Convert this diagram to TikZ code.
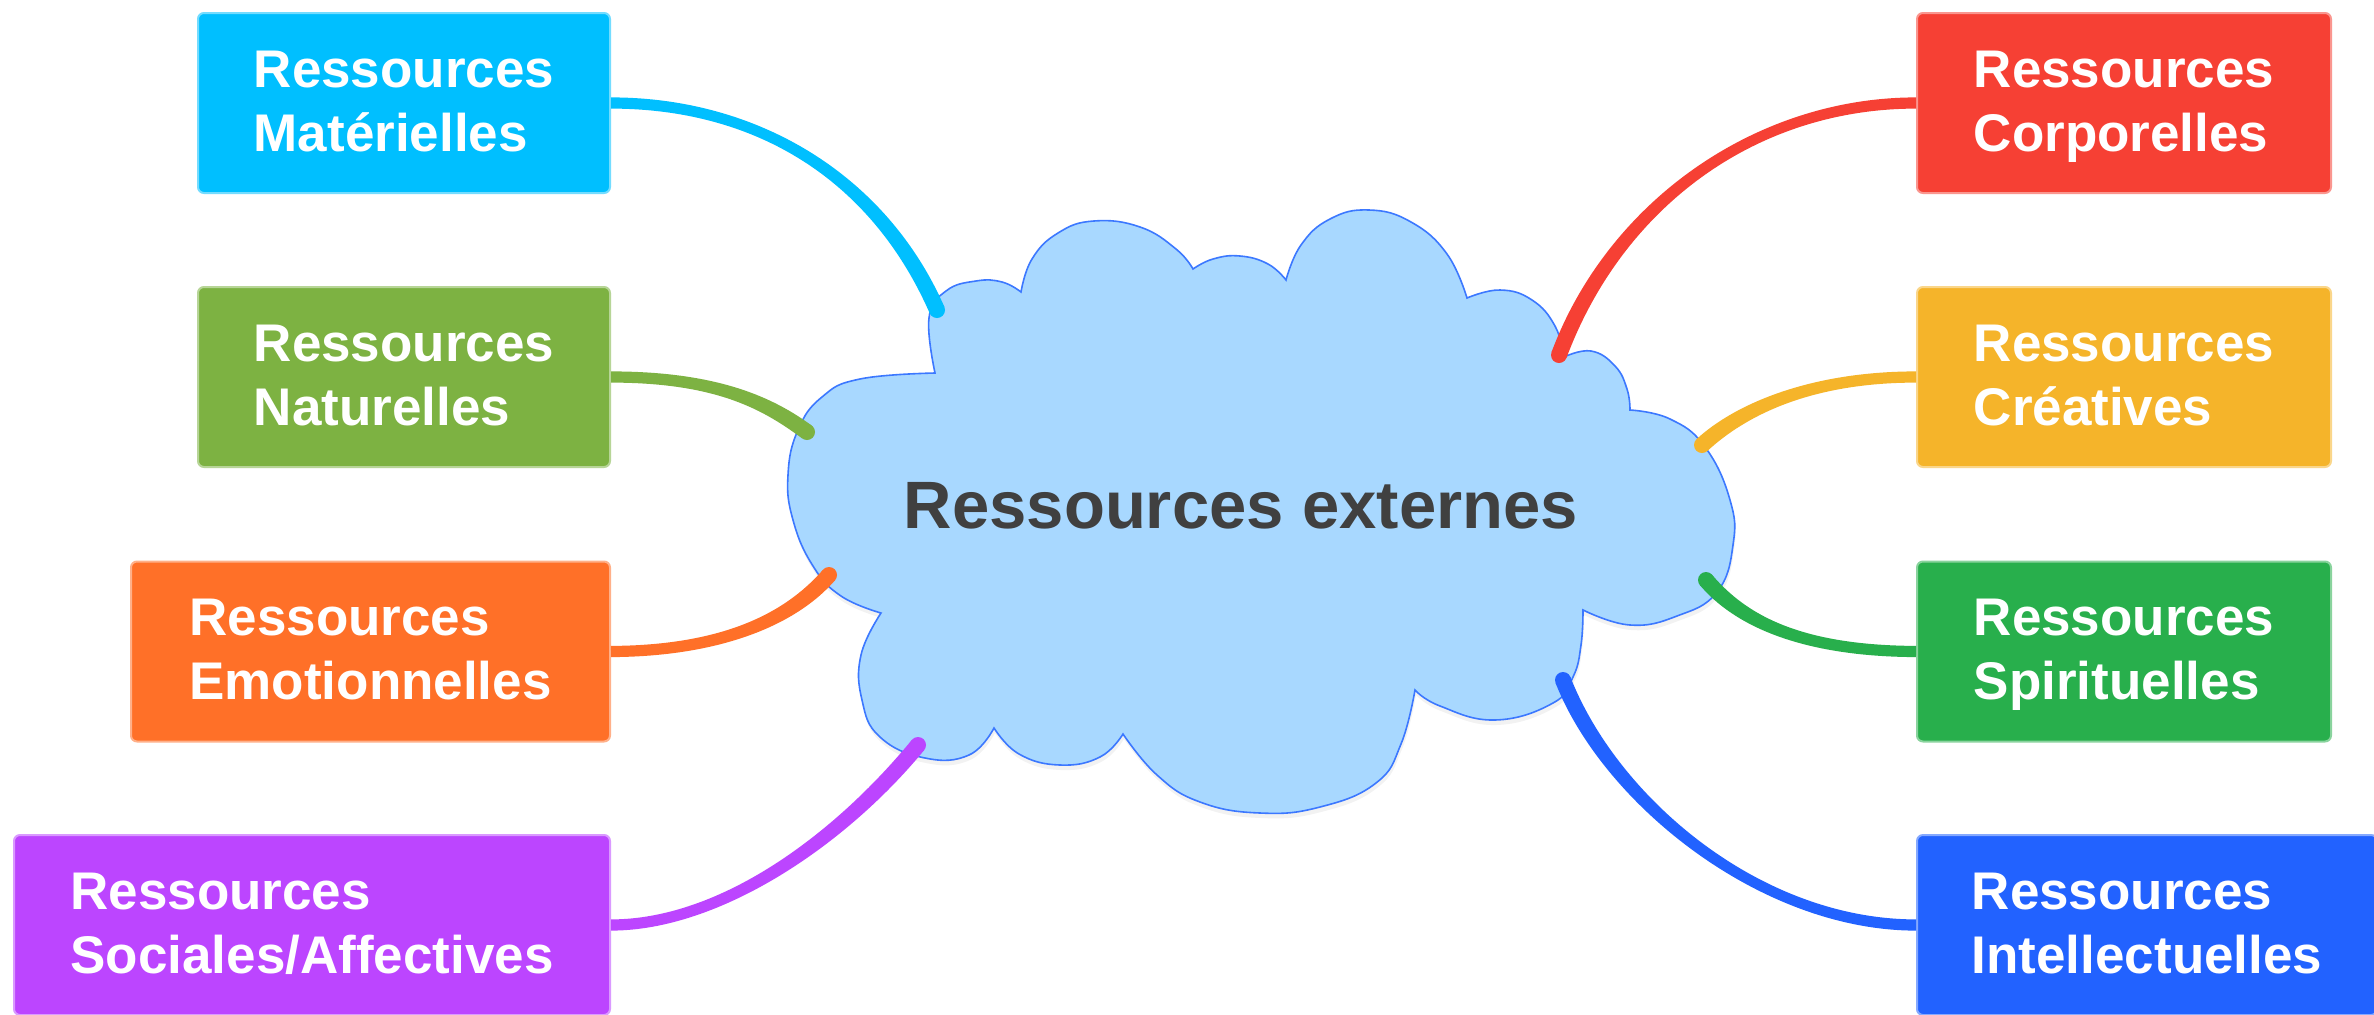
\documentclass[tikz,border=0pt]{standalone}
\usepackage{fontspec}
\setmainfont{Liberation Sans}
\usetikzlibrary{calc,shadows}

% branch and box colours
\definecolor{cMat}{RGB}{0,191,255}
\definecolor{cNat}{RGB}{125,178,66}
\definecolor{cEmo}{RGB}{255,112,40}
\definecolor{cSoc}{RGB}{188,69,255}
\definecolor{cCor}{RGB}{246,64,52}
\definecolor{cCre}{RGB}{245,180,42}
\definecolor{cSpi}{RGB}{40,175,76}
\definecolor{cInt}{RGB}{34,98,255}
\definecolor{cloudfill}{RGB}{168,216,255}
\definecolor{cloudline}{RGB}{60,120,255}
\definecolor{hubtext}{RGB}{64,64,64}

\newcommand\boxfont{\fontsize{26.5pt}{32pt}\selectfont\bfseries}
% two left-aligned lines: height = cap height + one baseline step
\newcommand\twolines[2]{\vbox{\hbox{\vrule height 19pt width 0pt #1}\hbox{\smash{#2}\vrule depth 3pt width 0pt}}}

% tapered branch: #1 colour, #2 start, #3 and #4 controls, #5 end (round tip)
\newcommand\branch[5]{%
  \fill[#1] ($#2!2.8pt!90:#3$) .. controls ($#3!2.8pt!-90:#2$) and ($#4!4pt!90:#5$) .. ($#5!4pt!-90:#4$)
    -- ($#5!4pt!90:#4$) .. controls ($#4!4pt!-90:#5$) and ($#3!2.8pt!90:#2$) .. ($#2!2.8pt!-90:#3$) -- cycle;
  \fill[#1] #5 circle[radius=4pt];}

\tikzset{
  res/.style={rectangle, rounded corners=3pt, fill=#1, draw=#1!55!white, line width=1pt,
    text=white, inner sep=0pt, minimum height=90pt, font=\boxfont},
  hub/.style={text=hubtext, font=\fontsize{33.5pt}{40pt}\selectfont\bfseries,
    text height=24pt, text depth=0pt, inner sep=0pt},
  cloudshape/.style={fill=cloudfill, draw=cloudline, line width=0.8pt,
    drop shadow={shadow xshift=0.5pt, shadow yshift=-2.5pt, opacity=0.1}},
  lobe/.style={smooth, tension=0.75},
}

\begin{document}
\begin{tikzpicture}[x=0.5pt,y=-0.5pt]
\fill[white] (0,0) rectangle (2374,1014);
\useasboundingbox (0,0) rectangle (2374,1014);

% central cloud
\path[cloudshape] (935,373)
  -- plot[lobe] coordinates {(935,373) (929,318) (946,291) (976,281) (1002,282) (1021,292)}
  -- plot[lobe] coordinates {(1021,292) (1032,259) (1058,233) (1094,221) (1140,227) (1176,249) (1193,269)}
  -- plot[lobe] coordinates {(1193,269) (1213,259) (1240,256) (1268,264) (1286,280)}
  -- plot[lobe] coordinates {(1286,280) (1301,245) (1330,219) (1369,210) (1411,222) (1447,254) (1467,298)}
  -- plot[lobe] coordinates {(1467,298) (1500,290) (1532,300) (1555,326) (1564,357)}
  -- plot[lobe] coordinates {(1564,357) (1591,351) (1615,366) (1627,389) (1630,410)}
  -- plot[lobe] coordinates {(1630,410) (1670,419) (1705,447) (1730,500) (1733,545) (1717,592) (1677,616) (1630,625) (1583,610)}
  -- plot[lobe] coordinates {(1583,610) (1581,645) (1573,677) (1553,703) (1495,720) (1440,706) (1415,690)}
  -- plot[lobe] coordinates {(1415,690) (1401,744) (1376,783) (1320,807) (1260,813) (1200,802) (1157,775) (1123,734)}
  -- plot[lobe] coordinates {(1123,734) (1100,757) (1060,765) (1019,754) (994,728)}
  -- plot[lobe] coordinates {(994,728) (969,755) (925,758) (880,737) (862,700) (861,655) (881,613)}
  -- plot[lobe] coordinates {(881,613) (841,596) (813,566) (793,520) (788,475) (798,430) (822,397) (860,379) (935,373)}
  -- cycle;
\node[hub] (hub) at (1241,504) {Ressources externes};

% branch tips on the cloud outline
\coordinate (eMat) at (937,310);
\coordinate (eNat) at (807,432);
\coordinate (eEmo) at (829,575);
\coordinate (eSoc) at (918,745);
\coordinate (eCor) at (1559,355);
\coordinate (eCre) at (1702,445);
\coordinate (eSpi) at (1706,580);
\coordinate (eInt) at (1563,680);

% resource boxes
\node[res=cMat, minimum width=206pt] (mat) at (404,103) {\twolines{Ressources}{Matérielles}};
\node[res=cNat, minimum width=206pt] (nat) at (404,377) {\twolines{Ressources}{Naturelles}};
\node[res=cEmo, minimum width=239.5pt] (emo) at (370.5,651.5) {\twolines{Ressources}{Emotionnelles}};
\node[res=cSoc, minimum width=298pt] (soc) at (312,925) {\twolines{Ressources}{Sociales/Affectives}};
\node[res=cCor, minimum width=207pt] (cor) at (2124,103) {\twolines{Ressources}{Corporelles}};
\node[res=cCre, minimum width=207pt] (cre) at (2124,377) {\twolines{Ressources}{Créatives}};
\node[res=cSpi, minimum width=207pt] (spi) at (2124,651.5) {\twolines{Ressources}{Spirituelles}};
\node[res=cInt, minimum width=230pt] (int) at (2147,925) {\twolines{Ressources}{Intellectuelles}};

% branches
\branch{cMat}{(mat.east)}{(760,103)}{(880,180)}{(eMat)}
\branch{cNat}{(nat.east)}{(720,377)}{(770,405)}{(eNat)}
\branch{cEmo}{(emo.east)}{(720,651)}{(790,620)}{(eEmo)}
\branch{cSoc}{(soc.east)}{(720,925)}{(840,840)}{(eSoc)}
\branch{cCor}{(cor.west)}{(1755,103)}{(1615,205)}{(eCor)}
\branch{cCre}{(cre.west)}{(1810,377)}{(1740,410)}{(eCre)}
\branch{cSpi}{(spi.west)}{(1800,651)}{(1740,620)}{(eSpi)}
\branch{cInt}{(int.west)}{(1760,925)}{(1610,800)}{(eInt)}
\end{tikzpicture}
\end{document}
